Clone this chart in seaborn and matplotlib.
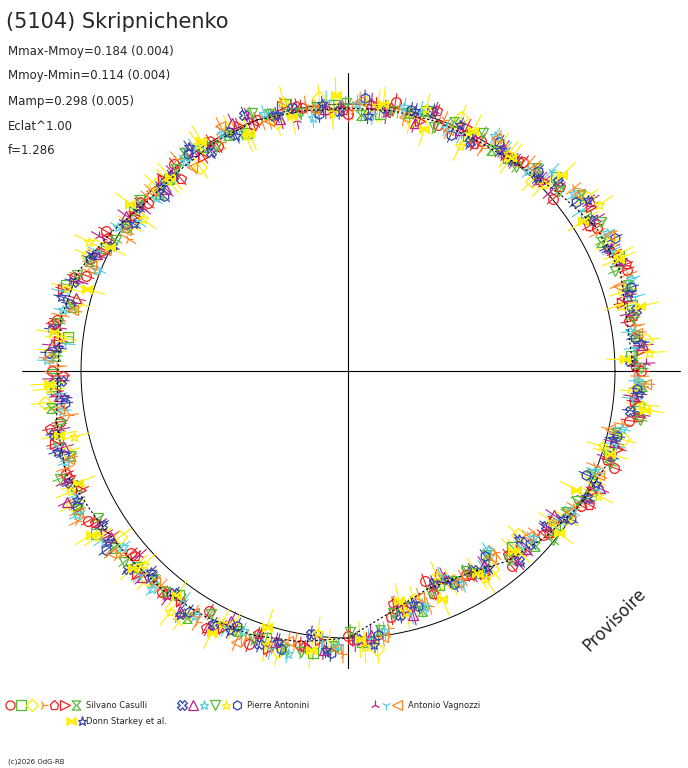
import numpy as np
import pandas as pd
import matplotlib
matplotlib.use('Agg')
import matplotlib.pyplot as plt
import seaborn as sns

sns.set_style('white')
plt.rcParams['font.family'] = ['DejaVu Sans']

title = '(5104) Skripnichenko'
stats = ['Mmax-Mmoy=0.184 (0.004)', 'Mmoy-Mmin=0.114 (0.004)',
         'Mamp=0.298 (0.005)', 'Eclat^1.00', 'f=1.286']

# mean polar curve (angle deg, radius px)
angles = np.arange(0, 360, 10)
radius = [290, 290, 290, 287, 276, 268, 264, 265, 264, 263, 264, 267, 265, 262, 263,
          275, 288, 292, 290, 296, 300, 292, 288, 287, 284, 281, 275, 267, 245, 232,
          235, 248, 258, 268, 275, 290]
ref_r = 267

# series: marker, colour, phase shift (deg), radial offsets (px), error (px)
markers = ['o', 's', 'D', '4', 'p', '>', '$\u29D7$', 'X', '^', '*', 'v', '*', 'h',
           '2', '1', '<', '$\u22C8$', '*']
colors = ['#ee2222', '#55bb33', '#ffee00', '#ff8822', '#ee2222', '#ee2222', '#55bb33',
          '#3344aa', '#bb2288', '#55ccdd', '#55bb33', '#ffee00', '#3344aa',
          '#bb2288', '#55ccdd', '#ff8822', '#ffee00', '#3344aa']
shifts = [0, 3, 6, 9, 1, 4, 7, 2, 5, 8, 0.5, 3.5, 6.5, 1.5, 4.5, 7.5, 2.5, 5.5]
errs = [8, 6, 14, 9, 7, 8, 6, 8, 10, 9, 7, 16, 8, 9, 10, 9, 18, 8]
offsets = [
    [2, -3, 4, 0, -5, 3, 1, -2, 6, -4, 2, 0, -3, 5, -1, 3, -6, 2, 4, -2, 0, 5, -3, 1, -4, 6, 2, -1, 3, -5, 0, 4, -2, 1, 5, -3],
    [-4, 1, 3, -2, 5, -1, 0, 4, -3, 2, 6, -5, 1, 0, 3, -2, 4, -6, 2, 1, -3, 5, 0, -4, 2, -1, 6, 3, -2, 0, 4, -5, 1, 3, -1, 2],
    [6, -2, 0, 5, -7, 3, 8, -4, 1, 7, -3, 2, -8, 4, 0, 6, -5, 3, 9, -2, 4, -6, 1, 7, -3, 5, -1, 8, -4, 2, 6, -7, 3, 0, 5, -2],
    [1, 4, -3, 2, 0, -5, 3, 1, -2, 4, 0, -3, 5, 2, -4, 1, 3, -1, -5, 2, 6, 0, -2, 4, 1, -3, 5, -4, 2, 3, -1, 0, 4, -2, 3, 1],
    [-2, 0, 5, -4, 3, 1, -3, 6, 0, -1, 4, -2, 2, -5, 3, 0, 1, 4, -3, 5, -1, 2, -4, 0, 6, -2, 3, 1, -5, 4, 2, -3, 0, 5, -1, 3],
    [3, -5, 1, 4, -2, 0, 5, -3, 2, -1, 6, 1, -4, 3, 0, -2, 5, -1, 2, 4, -5, 0, 3, -2, 1, 5, -3, 2, 0, -4, 6, 1, -2, 3, 4, -1],
    [0, 2, -4, 3, 1, -3, 4, 0, -5, 2, 3, -1, 5, -2, 1, 4, -3, 0, 6, -4, 2, 1, -2, 5, -1, 3, 0, -4, 4, 2, -3, 5, 1, -2, 0, 3],
    [-5, 3, 2, -1, 4, 0, -3, 5, 1, -2, 3, 6, -4, 0, 2, -5, 1, 4, -2, 3, 0, -1, 5, -3, 2, 4, -6, 1, 3, -2, 0, 5, -4, 2, 1, -3],
    [4, -1, 0, 6, -3, 2, 1, -5, 3, 0, -2, 4, 2, -3, 5, 1, -4, 3, 0, -1, 6, -2, 2, 4, -5, 0, 3, -1, 5, -3, 1, 2, -4, 6, 0, -2],
    [-3, 5, 2, 0, -4, 6, -1, 3, 2, -5, 4, 1, 0, -2, 5, -3, 2, 6, -1, 0, 4, -4, 3, 1, -2, 5, 0, -3, 2, 6, -5, 1, 4, -1, 3, 0],
    [2, 0, -3, 4, 1, -2, 6, -4, 0, 3, -1, 5, -3, 2, 4, -5, 0, 1, 3, -2, 5, -1, 4, 0, -3, 2, 6, -4, 1, 3, -2, 0, 5, -3, 2, 4],
    [7, -6, 3, 9, -4, 1, -8, 5, 2, -3, 8, -7, 4, 0, -5, 9, 3, -2, 6, -9, 1, 5, -4, 8, -1, 3, -7, 6, 2, -5, 9, 0, -3, 7, -6, 4],
    [-1, 3, 5, -2, 0, 4, -4, 2, 6, -3, 1, 0, 3, -5, 2, 4, -1, 5, -3, 0, 2, 6, -2, 1, -4, 3, 5, -1, 0, 4, -3, 2, 6, -5, 1, 0],
    [5, -2, 1, 3, -4, 0, 2, 6, -3, 1, -5, 4, 0, 2, -1, 5, -3, 1, 4, -2, 3, 0, -6, 2, 5, -1, 1, 3, -4, 0, 2, 5, -3, 1, -2, 4],
    [-2, 4, 0, -3, 6, 2, -1, 3, -4, 5, 1, -2, 4, 0, -3, 2, 6, -5, 1, 3, -1, 4, 2, -3, 0, 5, -2, 1, 4, -4, 3, 0, -1, 5, 2, -3],
    [1, -4, 3, 2, 0, 5, -2, -3, 4, 1, -1, 6, -5, 3, 0, 2, -4, 5, 1, -2, 3, 4, -1, 0, 6, -3, 2, 1, -5, 4, 0, -2, 3, 2, -4, 5],
    [-8, 6, 2, -5, 9, 0, 4, -7, 3, 8, -2, -6, 5, 1, 7, -4, -9, 3, 6, 0, -5, 8, 2, -3, 7, -8, 4, 1, -6, 9, 3, -2, 5, -7, 0, 6],
    [3, 1, -2, 5, -3, 0, 4, 2, -5, 3, 1, -4, 6, 0, -2, 3, 5, -1, -3, 4, 0, 2, -4, 6, 1, -1, 3, 5, -2, 0, 4, -5, 2, 3, -1, 1],
]
legend_groups = [('Silvano Casulli', 0, 7), ('Pierre Antonini', 7, 13),
                 ('Antonio Vagnozzi', 13, 16), ('Donn Starkey et al.', 16, 18)]

rows = []
for i in range(len(markers)):
    for a, r, d in zip(angles, radius, offsets[i]):
        rows.append({'s': i, 'ang': np.deg2rad(a + shifts[i]), 'r': r + 1.6 * d})
df = pd.DataFrame(rows)
df['x'] = df['r'] * np.cos(df['ang'])
df['y'] = df['r'] * np.sin(df['ang'])

fig = plt.figure(figsize=(6.88, 7.68), dpi=100)
# axes in pixel-like units, centre of polar diagram at (348, 371)
ax = fig.add_axes([0, 0, 1, 1])
ax.set_xlim(-348, 688 - 348)
ax.set_ylim(-(768 - 371), 371)
ax.axis('off')

ax.plot([-326, 332], [0, 0], color='black', lw=0.8)
ax.plot([0, 0], [-297, 298], color='black', lw=0.8)
t = np.linspace(0, 2 * np.pi, 400)
ax.plot(ref_r * np.cos(t), ref_r * np.sin(t), color='black', lw=0.7)

for i in range(len(markers)):
    sub = df[df['s'] == i]
    e = errs[i]
    for _, p in sub.iterrows():
        ax.plot([(p.r - e) * np.cos(p.ang), (p.r + e) * np.cos(p.ang)],
                [(p.r - e) * np.sin(p.ang), (p.r + e) * np.sin(p.ang)],
                color=colors[i], lw=0.8, zorder=2)
    ax.plot(sub['x'], sub['y'], ls='none', marker=markers[i], ms=7,
            mfc='none', mec=colors[i], mew=0.9, zorder=3)
closed_a = np.deg2rad(list(angles) + [360])
closed_r = np.array(radius + radius[:1])
sns.lineplot(x=closed_r * np.cos(closed_a), y=closed_r * np.sin(closed_a), ax=ax,
             sort=False, color='black', lw=0.8, ls=(0, (2, 2)), zorder=4)

fig.text(6 / 688, 1 - 22 / 768, title, fontsize=15, va='center')
for k, s in enumerate(stats):
    fig.text(8 / 688, 1 - (51 + 25 * k) / 768, s, fontsize=8.5, va='center')
fig.text(615 / 688, 1 - 620 / 768, 'Provisoire', fontsize=12, rotation=45,
         ha='center', va='center')

# legend
lax = fig.add_axes([0, 0, 1, 1])
lax.set_xlim(0, 688)
lax.set_ylim(768, 0)
lax.axis('off')
lay = [(10, 705, 86), (182, 705, 247), (375, 705, 408), (71, 721, 86)]
for (name, a, b), (x0, y0, tx) in zip(legend_groups, lay):
    for j, i in enumerate(range(a, b)):
        lax.plot([x0 + j * 11], [y0], ls='none', marker=markers[i], ms=6.5,
                 mfc='none', mec=colors[i], mew=0.9)
    lax.text(tx, y0, name, fontsize=6, va='center')
lax.text(8, 762, '(c)2026 OdG-RB', fontsize=5, va='center')

fig.savefig('out.png', dpi=100)
